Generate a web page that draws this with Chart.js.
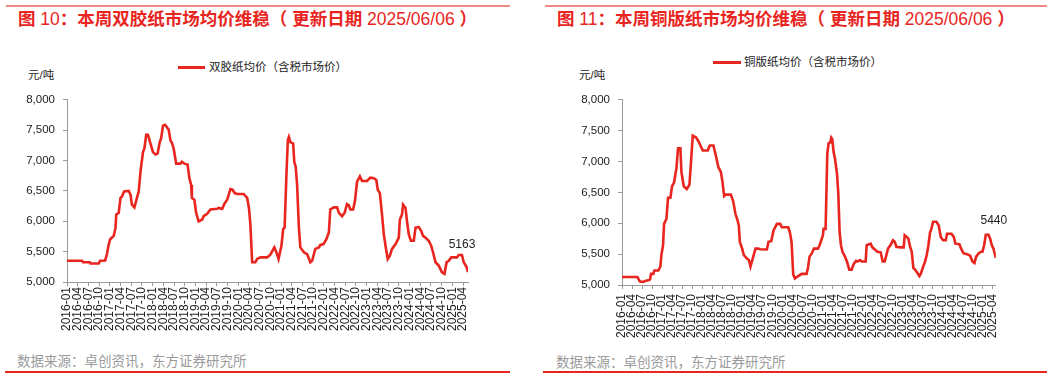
<!DOCTYPE html>
<html>
<head>
<meta charset="utf-8">
<script src="https://cdn.jsdelivr.net/npm/chart.js@4.4.1/dist/chart.umd.min.js"></script>
<style>
  html,body{margin:0;padding:0;background:#fff;}
  body{width:1061px;height:379px;position:relative;overflow:hidden;font-family:"Liberation Sans","Noto Sans CJK SC",sans-serif;}
  .abs{position:absolute;}
  .topline{height:2px;background:#F08A86;}
  .botline{height:2px;background:#E8251E;}
  .title{color:#E8251E;font-size:17.5px;font-weight:bold;white-space:nowrap;line-height:20px;}
  .title .n{font-weight:normal;}
  .unit{font-size:11.5px;color:#222;white-space:nowrap;}
  .leg{font-size:11.5px;color:#222;white-space:nowrap;line-height:14px;}
  .legline{height:3px;background:#E8251E;}
  .src{font-size:13.5px;color:#9a9a9a;white-space:nowrap;}
</style>
</head>
<body>
<!-- left panel -->
<div class="abs topline" style="left:6px;top:5px;width:504px;"></div>
<div class="abs title" style="left:18px;top:9px;">图<span class="n"> 10</span>：本周双胶纸市场均价维稳（ 更新日期<span class="n"> 2025/06/06 </span>）</div>
<div class="abs legline" style="left:178px;top:66px;width:27px;"></div>
<div class="abs leg" style="left:209px;top:60px;">双胶纸均价（含税市场价）</div>
<div class="abs unit" style="left:28px;top:66px;">元/吨</div>
<div class="abs src" style="left:17px;top:350px;">数据来源：卓创资讯，东方证券研究所</div>
<div class="abs botline" style="left:5px;top:371px;width:505px;"></div>
<div class="abs" style="left:0;top:85px;width:480px;height:265px;"><canvas id="c1" width="480" height="265"></canvas></div>

<!-- right panel -->
<div class="abs topline" style="left:545px;top:5px;width:502px;"></div>
<div class="abs title" style="left:557px;top:9px;">图<span class="n"> 11</span>：本周铜版纸市场均价维稳（ 更新日期<span class="n"> 2025/06/06 </span>）</div>
<div class="abs legline" style="left:713px;top:61px;width:28px;"></div>
<div class="abs leg" style="left:744px;top:55px;">铜版纸均价（含税市场价）</div>
<div class="abs unit" style="left:579px;top:66px;">元/吨</div>
<div class="abs src" style="left:556px;top:351px;">数据来源：卓创资讯，东方证券研究所</div>
<div class="abs botline" style="left:543px;top:371px;width:504px;"></div>
<div class="abs" style="left:530px;top:85px;width:482px;height:265px;"><canvas id="c2" width="482" height="265"></canvas></div>

<script>
// x positions: months since 2016-01
const dpMonth = [0,4.2,4.5,6.4,6.6,8.9,9.3,10.7,11.2,11.7,12.1,13.1,13.6,13.8,14.5,15.0,15.4,16.0,17.3,17.8,18.2,18.9,19.6,20.1,20.6,21.3,21.7,22.2,22.7,23.4,24.1,24.8,25.4,26.0,26.4,26.9,27.5,28.0,28.5,29.0,29.4,29.9,30.6,31.8,32.2,32.9,33.8,34.3,34.8,35.0,35.7,36.2,36.9,37.9,38.3,39.3,40.2,42.1,42.5,43.5,44.1,44.9,45.8,46.4,47.0,47.7,49.5,50.5,51.0,51.4,51.9,52.8,53.3,54.2,56.1,57.0,58.1,58.7,59.3,60.1,60.6,61.0,61.5,61.9,62.2,62.6,63.4,63.7,64.1,64.5,65.0,65.4,66.4,67.3,68.2,68.7,69.6,70.6,71.0,71.9,72.7,73.4,73.8,74.8,75.7,76.2,77.1,77.8,78.5,79.0,79.4,80.2,80.7,81.3,82.1,82.7,84.1,85.0,86.0,86.7,87.1,87.7,88.3,88.8,89.5,89.9,90.5,91.1,92.1,93.0,93.3,93.9,94.2,94.9,95.3,95.8,96.4,97.2,97.7,98.6,99.3,99.8,100.5,101.4,102.1,102.6,103.3,104.2,105.1,105.8,106.4,107.0,107.7,109.3,109.8,110.7,111.2,112.0,112.4];
const dpPrice = [5350,5350,5325,5325,5305,5305,5350,5355,5460,5620,5705,5760,5895,6110,6140,6385,6410,6490,6500,6440,6275,6230,6385,6490,6820,7140,7200,7425,7425,7280,7140,7100,7115,7305,7370,7575,7590,7550,7510,7330,7295,7200,6950,6950,6980,6950,6935,6710,6600,6385,6355,6140,6000,6030,6085,6125,6195,6205,6220,6205,6285,6355,6530,6520,6465,6450,6450,6385,6220,5950,5325,5325,5380,5405,5405,5450,5570,5490,5380,5595,5870,5895,6760,7335,7390,7305,7280,6980,6900,6600,5895,5570,5490,5460,5325,5350,5545,5570,5610,5625,5705,5815,6195,6230,6230,6140,6085,6140,6285,6265,6195,6195,6330,6655,6740,6665,6665,6720,6710,6680,6520,6465,6110,5785,5515,5380,5435,5545,5625,5730,6030,6110,6275,6220,6000,5785,5680,5680,5895,5905,5840,5760,5730,5680,5595,5490,5325,5270,5160,5135,5325,5350,5405,5405,5445,5445,5325,5245,5163];

const tbMonth = [0,4.6,5.4,6.4,6.9,7.9,8.4,8.7,9.4,9.7,10.9,11.5,11.8,12.3,12.6,13.3,13.8,14.5,15.0,15.6,16.3,16.8,17.5,17.8,18.5,19.4,20.2,20.7,21.2,22.2,22.9,23.5,24.2,25.7,26.3,27.4,28.1,28.9,29.6,30.1,30.6,31.1,32.6,33.3,34.0,34.5,35.0,35.3,36.0,36.5,37.5,38.0,38.5,39.2,40.0,40.8,41.4,43.4,43.9,44.7,45.4,46.4,47.4,47.9,49.8,50.3,50.8,51.3,51.8,52.8,53.8,55.3,55.7,56.2,56.9,57.5,58.7,59.2,59.7,60.2,60.4,61.0,61.5,61.9,62.4,62.7,63.0,63.4,63.8,64.4,64.8,65.2,65.6,66.1,66.6,67.4,68.1,68.8,69.4,70.1,70.5,71.3,71.8,73.0,73.3,74.5,75.0,76.0,76.5,77.5,78.1,78.7,79.2,79.7,80.4,81.2,81.7,82.2,83.4,84.4,84.7,85.3,85.8,86.3,86.8,87.3,87.8,88.5,89.1,89.5,90.1,90.8,91.3,91.8,92.3,92.7,93.2,94.2,94.9,95.5,96.2,97.0,97.4,98.7,99.4,99.9,101.1,101.6,102.3,103.6,104.3,105.0,105.6,106.1,106.9,107.6,108.0,108.5,109.0,109.8,110.3,110.8,111.3,112.0];
const tbPrice = [5130,5130,5055,5050,5065,5075,5090,5180,5180,5235,5235,5300,5485,5645,5990,6070,6415,6415,6600,6660,6890,7215,7215,6835,6600,6555,6625,7020,7420,7390,7330,7260,7180,7180,7260,7260,7100,6905,6835,6675,6440,6465,6465,6360,6150,6070,5965,5700,5590,5485,5425,5405,5300,5435,5590,5590,5580,5575,5700,5710,5885,5990,5990,5935,5935,5855,5700,5170,5105,5145,5180,5180,5275,5460,5515,5590,5590,5645,5725,5805,5910,5910,7125,7295,7310,7390,7365,7155,7050,6810,6490,5855,5645,5530,5485,5380,5250,5250,5340,5390,5380,5405,5380,5380,5645,5670,5610,5565,5540,5530,5380,5380,5485,5590,5645,5725,5700,5620,5610,5610,5805,5780,5750,5620,5540,5275,5250,5195,5145,5180,5275,5380,5485,5645,5855,5910,6025,6025,5965,5780,5725,5725,5830,5830,5780,5670,5660,5590,5515,5495,5475,5380,5355,5460,5515,5540,5540,5645,5815,5815,5750,5645,5590,5440];

const quarterLabels = ['2016-01','2016-04','2016-07','2016-10','2017-01','2017-04','2017-07','2017-10','2018-01','2018-04','2018-07','2018-10','2019-01','2019-04','2019-07','2019-10','2020-01','2020-04','2020-07','2020-10','2021-01','2021-04','2021-07','2021-10','2022-01','2022-04','2022-07','2022-10','2023-01','2023-04','2023-07','2023-10','2024-01','2024-04','2024-07','2024-10','2025-01','2025-04'];
const yTicks = [5000,5500,6000,6500,7000,7500,8000];

const RED = '#E8251E';
const AXIS = '#9a9a9a';
const FONT = '"Liberation Sans","Noto Sans CJK SC",sans-serif';

function lastLabelPlugin(dx, dy){
  return {
    id:'lastLabel',
    afterDatasetsDraw(chart){
      const meta = chart.getDatasetMeta(0);
      const pt = meta.data[meta.data.length-1];
      const ds = chart.data.datasets[0].data;
      const v = ds[ds.length-1].y;
      const ctx = chart.ctx;
      ctx.save();
      ctx.font = '12px ' + FONT;
      ctx.fillStyle = '#222';
      ctx.textAlign = 'center';
      ctx.textBaseline = 'middle';
      ctx.fillText(String(v), pt.x + dx, pt.y + dy);
      ctx.restore();
    }
  };
}

function makeChart(id, months, prices, yAxisW, xAxisH, padTop, xPad, lbl){
  const pts = months.map((m,i)=>({x:m, y:prices[i]}));
  return new Chart(document.getElementById(id), {
    type:'line',
    data:{datasets:[{data:pts, borderColor:RED, borderWidth:2.6, pointRadius:0, tension:0, fill:false}]},
    options:{
      responsive:false, animation:false, devicePixelRatio:1,
      layout:{padding:{left:0, top:padTop, right:12, bottom:0}},
      plugins:{legend:{display:false}, tooltip:{enabled:false}},
      scales:{
        x:{
          type:'linear', min:0, max:months[months.length-1],
          afterFit:(s)=>{ s.height = xAxisH; },
          afterBuildTicks:(s)=>{ s.ticks = quarterLabels.map((_,i)=>({value:i*3})); },
          grid:{drawOnChartArea:false, color:AXIS, tickLength:4},
          border:{color:AXIS, width:1},
          ticks:{autoSkip:false, minRotation:90, maxRotation:90, padding:xPad, color:'#222',
            font:{family:FONT, size:12},
            callback:(v)=> quarterLabels[Math.round(v/3)] }
        },
        y:{
          min:5000, max:8000,
          afterFit:(s)=>{ s.width = yAxisW; },
          afterBuildTicks:(s)=>{ s.ticks = yTicks.map(v=>({value:v})); },
          grid:{drawOnChartArea:false, color:AXIS, tickLength:4},
          border:{color:AXIS, width:1},
          ticks:{padding:8, color:'#222', font:{family:FONT, size:11.5},
            callback:(v)=> v.toLocaleString('en-US') }
        }
      }
    },
    plugins:[lastLabelPlugin(lbl[0], lbl[1])]
  });
}

makeChart('c1', dpMonth, dpPrice, 67, 68, 12, 1, [-6,-27]);
makeChart('c2', tbMonth, tbPrice, 92, 65, 10, 5, [-2,-37]);
</script>
</body>
</html>
